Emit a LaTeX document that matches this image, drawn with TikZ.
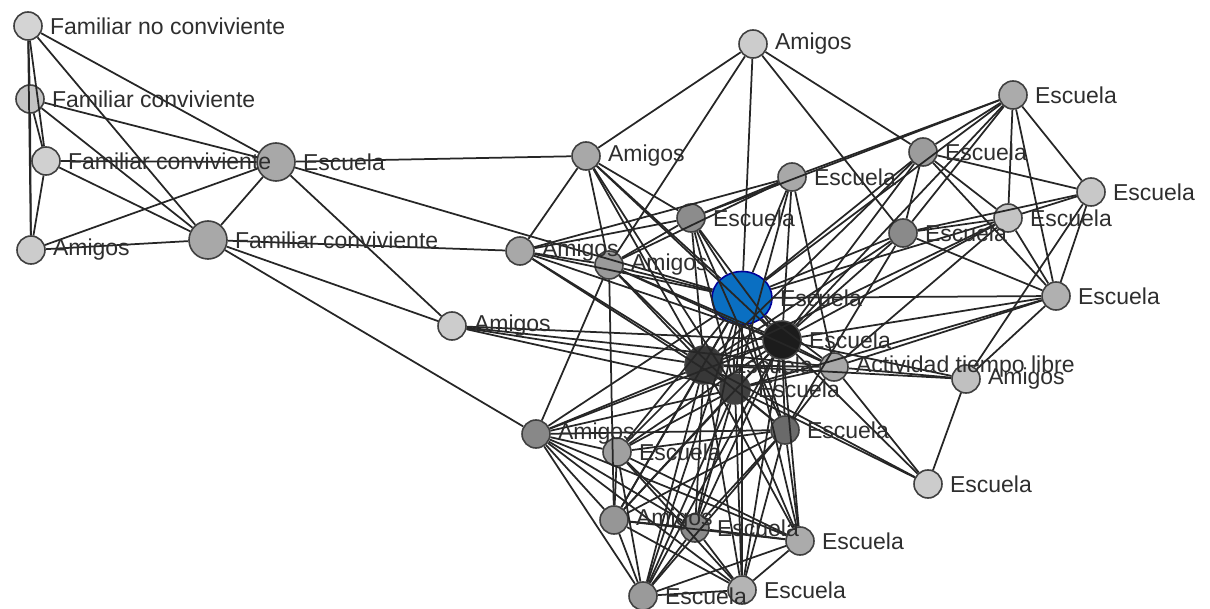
\documentclass[tikz,border=0pt]{standalone}
\usepackage{fontspec}
\setmainfont{Liberation Sans}
\usetikzlibrary{shapes.geometric}
\definecolor{edgec}{HTML}{262626}
\definecolor{bordc}{HTML}{404040}
\definecolor{txtc}{HTML}{2E2E2E}
\definecolor{blueN}{HTML}{0A6FC2}
\tikzset{
  nd/.style={circle,draw=bordc,line width=1.6pt,inner sep=0pt,minimum size=28pt},
  big/.style={nd,minimum size=38pt},
  lbl/.style={text=txtc,font=\fontsize{23}{25}\selectfont,inner sep=0pt},
  edge/.style={draw=edgec,line width=1.75pt}
}
\begin{document}
\begin{tikzpicture}[x=1pt,y=-1pt]
\useasboundingbox (0,0) rectangle (1210,609);
% node coordinates
\coordinate (pfnc) at (28,26);
\coordinate (pfc1) at (30,99);
\coordinate (pfc2) at (46,161);
\coordinate (pa1) at (31,250);
\coordinate (pe1) at (276,162);
\coordinate (pfc3) at (208,240);
\coordinate (pa2) at (753,44);
\coordinate (pa3) at (586,156);
\coordinate (pe2) at (792,177);
\coordinate (pe3) at (691,218);
\coordinate (pa4) at (520,251);
\coordinate (pa5) at (609,265);
\coordinate (pe4) at (923,152);
\coordinate (pe5) at (1013,95);
\coordinate (pe6) at (1091,192);
\coordinate (pe7) at (1008,218);
\coordinate (pe8) at (903,233);
\coordinate (pe9) at (1056,296);
\coordinate (pbl) at (742,298);
\coordinate (pk1) at (782,340);
\coordinate (pk2) at (704,365);
\coordinate (pk3) at (735,389);
\coordinate (patl) at (834,367);
\coordinate (pa6) at (966,379);
\coordinate (pa7) at (452,326);
\coordinate (pe10) at (785,430);
\coordinate (pa8) at (536,434);
\coordinate (pe11) at (617,452);
\coordinate (pe12) at (928,484);
\coordinate (pa9) at (614,520);
\coordinate (pe13) at (695,528);
\coordinate (pe14) at (800,541);
\coordinate (pe15) at (643,596);
\coordinate (pe16) at (742,590);
% nodes
\node[nd,fill={rgb,255:red,212;green,212;blue,212}] (fnc) at (pfnc) {};
\node[nd,fill={rgb,255:red,196;green,196;blue,196}] (fc1) at (pfc1) {};
\node[nd,fill={rgb,255:red,208;green,208;blue,208}] (fc2) at (pfc2) {};
\node[nd,fill={rgb,255:red,204;green,204;blue,204}] (a1) at (pa1) {};
\node[big,fill={rgb,255:red,168;green,168;blue,168}] (e1) at (pe1) {};
\node[big,fill={rgb,255:red,168;green,168;blue,168}] (fc3) at (pfc3) {};
\node[nd,fill={rgb,255:red,204;green,204;blue,204}] (a2) at (pa2) {};
\node[nd,fill={rgb,255:red,168;green,168;blue,168}] (a3) at (pa3) {};
\node[nd,fill={rgb,255:red,168;green,168;blue,168}] (e2) at (pe2) {};
\node[nd,fill={rgb,255:red,140;green,140;blue,140}] (e3) at (pe3) {};
\node[nd,fill={rgb,255:red,168;green,168;blue,168}] (a4) at (pa4) {};
\node[nd,fill={rgb,255:red,154;green,154;blue,154}] (a5) at (pa5) {};
\node[nd,fill={rgb,255:red,156;green,156;blue,156}] (e4) at (pe4) {};
\node[nd,fill={rgb,255:red,171;green,171;blue,171}] (e5) at (pe5) {};
\node[nd,fill={rgb,255:red,200;green,200;blue,200}] (e6) at (pe6) {};
\node[nd,fill={rgb,255:red,196;green,196;blue,196}] (e7) at (pe7) {};
\node[nd,fill={rgb,255:red,138;green,138;blue,138}] (e8) at (pe8) {};
\node[nd,fill={rgb,255:red,176;green,176;blue,176}] (e9) at (pe9) {};
\node[ellipse,draw=blue!60!black,line width=1.6pt,inner sep=0pt,minimum width=60pt,minimum height=53pt,fill=blueN] (bl) at (pbl) {};
\node[big,fill={rgb,255:red,28;green,28;blue,28}] (k1) at (pk1) {};
\node[big,fill={rgb,255:red,56;green,56;blue,56}] (k2) at (pk2) {};
\node[nd,minimum size=30pt,fill={rgb,255:red,64;green,64;blue,64}] (k3) at (pk3) {};
\node[nd,fill={rgb,255:red,168;green,168;blue,168}] (atl) at (patl) {};
\node[nd,fill={rgb,255:red,192;green,192;blue,192}] (a6) at (pa6) {};
\node[nd,fill={rgb,255:red,204;green,204;blue,204}] (a7) at (pa7) {};
\node[nd,fill={rgb,255:red,106;green,106;blue,106}] (e10) at (pe10) {};
\node[nd,fill={rgb,255:red,136;green,136;blue,136}] (a8) at (pa8) {};
\node[nd,fill={rgb,255:red,160;green,160;blue,160}] (e11) at (pe11) {};
\node[nd,fill={rgb,255:red,204;green,204;blue,204}] (e12) at (pe12) {};
\node[nd,fill={rgb,255:red,150;green,150;blue,150}] (a9) at (pa9) {};
\node[nd,fill={rgb,255:red,138;green,138;blue,138}] (e13) at (pe13) {};
\node[nd,fill={rgb,255:red,171;green,171;blue,171}] (e14) at (pe14) {};
\node[nd,fill={rgb,255:red,154;green,154;blue,154}] (e15) at (pe15) {};
\node[nd,fill={rgb,255:red,180;green,180;blue,180}] (e16) at (pe16) {};
% edges
\foreach \a/\b in {fnc/fc1,fnc/fc2,fnc/a1,fnc/e1,fnc/fc3,fc1/fc2,fc1/a1,fc1/e1,fc1/fc3,fc2/a1,fc2/e1,fc2/fc3,a1/e1,a1/fc3,e1/fc3,e1/a3,e1/bl,e1/a7,fc3/a4,fc3/a7,fc3/a8,
a7/k2,a7/k1,a7/k3,a7/atl,
a2/a3,a2/a5,a2/bl,a2/e4,a2/e8,
a3/a4,a3/a5,a3/e3,a3/bl,a3/k1,a3/k2,a3/k3,
e3/e2,e3/e5,e3/bl,e3/k1,e3/k2,e3/k3,e3/e10,e3/a5,e3/a4,
e2/e5,e2/bl,e2/k1,e2/k3,e2/atl,e2/a5,
e4/e5,e4/e6,e4/e7,e4/e8,e4/e9,e4/bl,e4/k1,e4/k2,
e5/e6,e5/e7,e5/e9,e5/e8,e5/bl,e5/k1,
e6/e7,e6/e8,e6/e9,e6/a6,
e7/e8,e7/e9,e7/bl,e7/k1,e7/atl,e7/k2,
e8/e9,e8/bl,e8/k1,e8/k2,e8/e10,
e9/k1,e9/atl,e9/a6,e9/k3,e9/bl,
a6/atl,a6/k2,a6/k1,a6/e12,
e12/atl,e12/k1,e12/k3,e12/k2,
atl/k1,atl/k2,atl/bl,atl/k3,atl/e10,
a8/a5,a8/e11,a8/a9,a8/e15,a8/e13,a8/e14,a8/e16,a8/k2,a8/bl,a8/k1,a8/k3,a8/e10,
e11/a9,e11/e15,e11/e13,e11/e14,e11/e16,e11/k2,e11/k3,e11/bl,e11/k1,e11/e10,
a9/e13,a9/e15,a9/e16,a9/e14,a9/k2,a9/k3,a9/bl,a9/k1,a9/e10,a9/a5,
e13/e14,e13/e15,e13/e16,e13/k2,e13/k3,e13/bl,e13/k1,e13/e10,
e14/e15,e14/e16,e14/e10,e14/k1,e14/k3,e14/k2,e14/bl,
e15/e16,e15/k2,e15/k3,e15/bl,e15/e10,e15/k1,
e16/k3,e16/bl,e16/k1,e16/e10,e16/k2,
e10/k1,e10/k3,e10/bl,e10/k2,
a4/bl,a4/k2,a4/k1,a4/a5,a4/k3,a4/e2,
a5/bl,a5/k1,a5/k2,a5/k3,a5/atl,
bl/k1,bl/k2,bl/k3,k1/k2,k1/k3,k2/k3}
  \draw[edge] (\a) -- (\b);
% labels
\foreach \n/\t in {fnc/Familiar no conviviente,fc1/Familiar conviviente,fc2/Familiar conviviente,a1/Amigos,e1/Escuela,fc3/Familiar conviviente,a2/Amigos,a3/Amigos,e2/Escuela,e3/Escuela,a4/Amigos,a5/Amigos,e4/Escuela,e5/Escuela,e6/Escuela,e7/Escuela,e8/Escuela,e9/Escuela,bl/Escuela,k1/Escuela,k2/Escuela,k3/Escuela,atl/Actividad tiempo libre,a6/Amigos,a7/Amigos,e10/Escuela,a8/Amigos,e11/Escuela,e12/Escuela,a9/Amigos,e13/Escuela,e14/Escuela,e15/Escuela,e16/Escuela}
  \node[lbl,anchor=west] (t\n) at ([xshift=7pt]\n.east) {\t};
\end{tikzpicture}
\end{document}
